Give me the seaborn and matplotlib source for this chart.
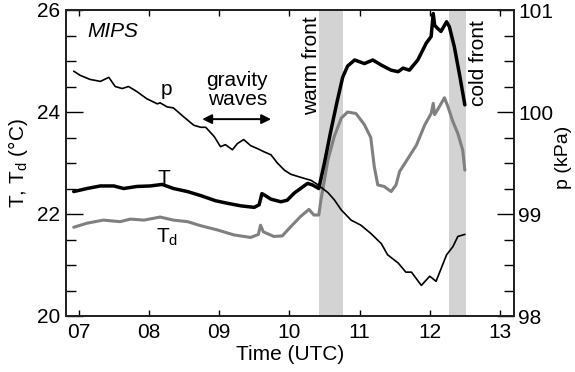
import numpy as np
import pandas as pd
import matplotlib
matplotlib.use("Agg")
import matplotlib.pyplot as plt
import seaborn as sns
from matplotlib.ticker import MultipleLocator

# ---------------- data ----------------
t_T = [6.93, 7.12, 7.31, 7.50, 7.64, 7.83, 8.02, 8.19, 8.35, 8.55,
       8.74, 8.95, 9.12, 9.31, 9.50, 9.57, 9.61, 9.66, 9.74, 9.88,
       9.97, 10.07, 10.16, 10.26, 10.33, 10.42, 10.50, 10.59, 10.68, 10.76,
       10.83, 10.93, 11.07, 11.19, 11.31, 11.45, 11.55, 11.62, 11.71, 11.83,
       11.95, 12.02, 12.05, 12.07, 12.11, 12.16, 12.24, 12.28, 12.35, 12.43,
       12.50]
T = [22.44, 22.50, 22.55, 22.55, 22.50, 22.54, 22.55, 22.58, 22.50, 22.44,
     22.36, 22.26, 22.21, 22.16, 22.13, 22.18, 22.40, 22.36, 22.29, 22.24,
     22.27, 22.41, 22.50, 22.60, 22.57, 22.50, 23.00, 23.62, 24.20, 24.68,
     24.90, 25.02, 24.95, 25.02, 24.92, 24.82, 24.79, 24.86, 24.82, 25.02,
     25.35, 25.48, 25.93, 25.70, 25.64, 25.58, 25.77, 25.67, 25.28, 24.69,
     24.14]

t_Td = [6.93, 7.12, 7.35, 7.59, 7.74, 7.93, 8.16, 8.35, 8.55, 8.74,
        8.97, 9.21, 9.45, 9.56, 9.59, 9.63, 9.78, 9.90, 10.02, 10.16,
        10.28, 10.35, 10.42, 10.45, 10.55, 10.64, 10.74, 10.83, 10.95, 11.07,
        11.16, 11.21, 11.26, 11.35, 11.45, 11.52, 11.57, 11.69, 11.81, 11.93,
        12.02, 12.05, 12.07, 12.11, 12.21, 12.26, 12.33, 12.40, 12.47, 12.50]
Td = [21.74, 21.82, 21.88, 21.85, 21.90, 21.88, 21.94, 21.88, 21.85, 21.77,
      21.69, 21.59, 21.54, 21.60, 21.78, 21.65, 21.56, 21.57, 21.75, 21.95,
      22.09, 21.98, 21.98, 22.27, 23.06, 23.52, 23.88, 24.00, 23.97, 23.75,
      23.50, 22.93, 22.57, 22.54, 22.44, 22.57, 22.83, 23.09, 23.35, 23.75,
      23.97, 24.17, 23.95, 24.04, 24.28, 24.10, 23.81, 23.58, 23.25, 22.86]

t_p = [6.93, 7.02, 7.16, 7.31, 7.43, 7.52, 7.62, 7.71, 7.83, 7.97,
       8.12, 8.16, 8.26, 8.35, 8.50, 8.64, 8.74, 8.81, 8.93, 9.02,
       9.09, 9.19, 9.26, 9.35, 9.45, 9.55, 9.64, 9.74, 9.83, 9.93,
       10.02, 10.16, 10.31, 10.40, 10.55, 10.64, 10.74, 10.88, 11.02, 11.16,
       11.31, 11.40, 11.55, 11.66, 11.74, 11.88, 12.00, 12.09, 12.24, 12.33,
       12.40, 12.50]
p = [100.40, 100.36, 100.32, 100.30, 100.34, 100.25, 100.23, 100.25, 100.20, 100.13,
     100.08, 100.09, 100.05, 100.04, 99.95, 99.87, 99.85, 99.85, 99.76, 99.66,
     99.68, 99.63, 99.69, 99.73, 99.67, 99.64, 99.61, 99.58, 99.50, 99.43,
     99.39, 99.36, 99.33, 99.29, 99.21, 99.14, 99.04, 98.94, 98.89, 98.81,
     98.71, 98.60, 98.52, 98.43, 98.43, 98.30, 98.39, 98.34, 98.60, 98.68,
     98.78, 98.80]

warm_front = (10.42, 10.77)
cold_front = (12.28, 12.51)
x_ticks = [7, 8, 9, 10, 11, 12, 13]
x_ticklabels = ["07", "08", "09", "10", "11", "12", "13"]

# ---------------- style ----------------
sns.set_theme(style="ticks")
plt.rcParams["font.family"] = ["Liberation Sans", "DejaVu Sans"]
plt.rcParams["mathtext.fontset"] = "custom"
plt.rcParams["mathtext.rm"] = "Liberation Sans"
plt.rcParams["mathtext.it"] = "Liberation Sans:italic"
plt.rcParams["text.color"] = "black"
plt.rcParams["axes.labelcolor"] = "black"
FS = 15

fig = plt.figure(figsize=(5.75, 3.72), dpi=100)
ax = fig.add_axes([66 / 575, 1 - 316 / 372, (514 - 66) / 575, (316 - 10) / 372])
ax2 = ax.twinx()

dfT = pd.DataFrame({"time": t_T, "T": T})
dfTd = pd.DataFrame({"time": t_Td, "Td": Td})
dfp = pd.DataFrame({"time": t_p, "p": p})

for span in (warm_front, cold_front):
    ax.axvspan(*span, color="#d3d3d3", lw=0, zorder=0)

sns.lineplot(data=dfTd, x="time", y="Td", ax=ax, color="#808080", lw=2.2, zorder=3)
sns.lineplot(data=dfT, x="time", y="T", ax=ax, color="black", lw=2.5, zorder=4)
sns.lineplot(data=dfp, x="time", y="p", ax=ax2, color="black", lw=1.2, zorder=4)

ax.set_xlim(6.82, 13.2)
ax.set_ylim(20, 26)
ax2.set_ylim(98, 101)

ax.set_xticks(x_ticks)
ax.set_xticklabels(x_ticklabels)
ax.set_yticks([20, 22, 24, 26])
ax.yaxis.set_minor_locator(MultipleLocator(0.5))
ax2.set_yticks([98, 99, 100, 101])
ax2.yaxis.set_minor_locator(MultipleLocator(0.25))

ax.tick_params(axis="x", which="major", direction="in", length=4, width=1,
               top=True, bottom=True, labelsize=FS, pad=5, colors="black")
ax.tick_params(axis="y", which="major", direction="in", length=12, width=1,
               labelsize=FS, pad=4, colors="black", right=False)
ax.tick_params(axis="y", which="minor", direction="in", length=7, width=1,
               colors="black", right=False, left=True)
ax2.tick_params(axis="y", which="major", direction="in", length=12, width=1,
                labelsize=FS, pad=3, colors="black")
ax2.tick_params(axis="y", which="minor", direction="in", length=7, width=1,
                colors="black")

for a in (ax, ax2):
    for s in a.spines.values():
        s.set_color("#222222")
        s.set_linewidth(1.3)

ax.set_xlabel("Time (UTC)", fontsize=FS, labelpad=2)
ax.set_ylabel("T, T$_\\mathrm{d}$ (°C)", fontsize=FS, labelpad=5)
ax2.set_ylabel("p (kPa)", fontsize=14)
ax2.yaxis.set_label_coords((563 - 66) / 448, 0.52)
ax2.yaxis.label.set_va("center")

# annotations
ax.text(7.49, 25.57, "MIPS", fontsize=FS, style="italic", ha="center", va="center")
ax.text(8.25, 24.33, "p", fontsize=FS, ha="center", va="baseline")
ax.text(9.26, 24.43, "gravity\nwaves", fontsize=FS, ha="center", va="center",
        linespacing=0.95)
ax.annotate("", xy=(9.74, 23.86), xytext=(8.76, 23.86),
            arrowprops=dict(arrowstyle="<|-|>", color="black", lw=1.4,
                            mutation_scale=14, shrinkA=0, shrinkB=0))
ax.text(8.22, 22.58, "T", fontsize=FS, ha="center", va="baseline", zorder=2)
ax.text(8.26, 21.55, "T$_\\mathrm{d}$", fontsize=FS, ha="center", va="center")
ax.text(10.31, 25.87, "warm front", fontsize=FS, rotation=90, ha="center", va="top")
ax.text(12.69, 25.80, "cold front", fontsize=FS, rotation=90, ha="center", va="top")

fig.savefig("out.png", dpi=100)
